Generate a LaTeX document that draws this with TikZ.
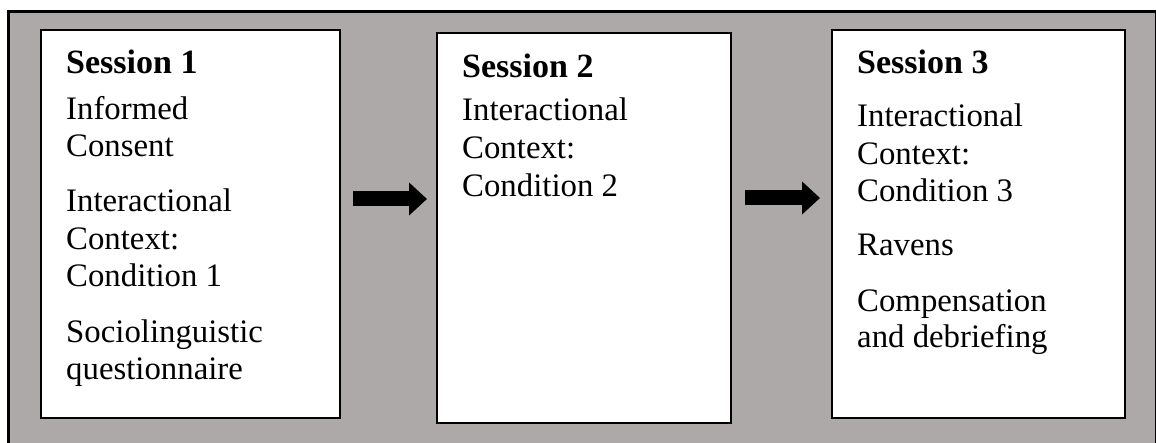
\documentclass[tikz,border=0pt]{standalone}
\usepackage{fontspec}
\setmainfont{Liberation Serif}
\usetikzlibrary{arrows.meta}
\definecolor{panelgrey}{RGB}{172,169,168}
\begin{document}
\begin{tikzpicture}[x=1pt,y=-1pt,
  sessionbox/.style={draw=black,line width=2pt,fill=white,anchor=north west,inner sep=0pt},
  txt/.style={anchor=base west,inner sep=0pt,font=\fontsize{32.8}{37}\selectfont},
  ttl/.style={anchor=base west,inner sep=0pt,font=\fontsize{34}{37}\selectfont\bfseries},
  bigarrow/.style={line width=15pt,-{Triangle[length=18pt,width=32pt]}}]
\useasboundingbox (0,0) rectangle (1156,443);
\fill[white] (0,0) rectangle (1156,443);
\node[draw=black,line width=3pt,fill=panelgrey,anchor=north west,minimum width=1148pt,minimum height=436pt,inner sep=0pt] (panel) at (7,10) {};
\node[sessionbox,minimum width=299pt,minimum height=388pt] (b1) at (40,29) {};
\node[sessionbox,minimum width=294pt,minimum height=390pt] (b2) at (436,32) {};
\node[sessionbox,minimum width=293pt,minimum height=388pt] (b3) at (831,29) {};
% box 1
\node[ttl] (t1) at (66,74) {Session 1};
\node[txt] (t1a) at (66,120) {Informed};
\node[txt] (t1b) at (66,157) {Consent};
\node[txt] (t1c) at (66,212) {Interactional};
\node[txt] (t1d) at (66,250) {Context:};
\node[txt] (t1e) at (66,287) {Condition 1};
\node[txt] (t1f) at (66,342) {Sociolinguistic};
\node[txt] (t1g) at (66,379) {questionnaire};
% box 2
\node[ttl] (t2) at (462,78) {Session 2};
\node[txt] (t2a) at (462,121) {Interactional};
\node[txt] (t2b) at (462,159) {Context:};
\node[txt] (t2c) at (462,197) {Condition 2};
% box 3
\node[ttl] (t3) at (857,74) {Session 3};
\node[txt] (t3a) at (857,127) {Interactional};
\node[txt] (t3b) at (857,165) {Context:};
\node[txt] (t3c) at (857,202) {Condition 3};
\node[txt] (t3d) at (857,256) {Ravens};
\node[txt] (t3e) at (857,312) {Compensation};
\node[txt] (t3f) at (857,348) {and debriefing};
% arrows
\coordinate (a1s) at (353,199);
\coordinate (a1e) at (427,199);
\coordinate (a2s) at (745,198);
\coordinate (a2e) at (820,198);
\draw[bigarrow] (a1s) -- (a1e);
\draw[bigarrow] (a2s) -- (a2e);
\end{tikzpicture}
\end{document}
